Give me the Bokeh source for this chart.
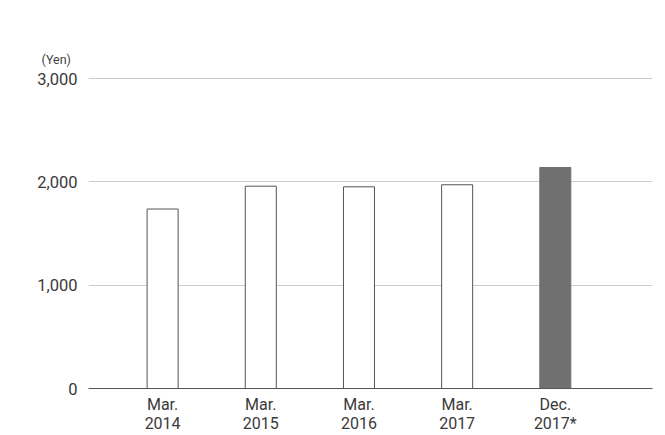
from bokeh.plotting import figure
from bokeh.models import ColumnDataSource, FixedTicker, Range1d, Title, NumeralTickFormatter
from bokeh.embed import file_html
from bokeh.resources import INLINE

categories = ["Mar.\n2014", "Mar.\n2015", "Mar.\n2016", "Mar.\n2017", "Dec.\n2017*"]
values = [1737, 1958, 1952, 1972, 2139]
fills = ["#ffffff", "#ffffff", "#ffffff", "#ffffff", "#707070"]
lines = ["#555555", "#555555", "#555555", "#555555", "#707070"]
y_ticks = [0, 1000, 2000, 3000]
unit_label = "(Yen)"

xs = list(range(len(categories)))
src = ColumnDataSource(dict(x=xs, top=values, fill=fills, line=lines))

p = figure(width=665, height=435, output_backend="svg", toolbar_location=None,
           x_range=Range1d(-0.755, 4.99), y_range=Range1d(0, 3010),
           min_border_left=88, min_border_right=13, min_border_top=77, min_border_bottom=47)
p.outline_line_color = None
p.background_fill_color = "white"
p.border_fill_color = "white"

p.vbar(x="x", top="top", bottom=0, width=0.316, source=src,
       fill_color="fill", line_color="line", line_width=1)

# y axis
p.yaxis.ticker = FixedTicker(ticks=y_ticks)
p.yaxis.formatter = NumeralTickFormatter(format="0,0")
p.yaxis.axis_line_color = None
p.yaxis.major_tick_line_color = None
p.yaxis.major_tick_out = 0
p.yaxis.major_tick_in = 0
p.yaxis.minor_tick_line_color = None
p.yaxis.major_label_text_font = "Roboto"
p.yaxis.major_label_text_font_size = "16.5px"
p.yaxis.major_label_text_color = "#3a3a3a"
p.yaxis.major_label_standoff = 11
p.ygrid.grid_line_color = "#cccccc"
p.ygrid.ticker = FixedTicker(ticks=y_ticks)

# x axis
p.xaxis.ticker = FixedTicker(ticks=xs)
p.xaxis.major_label_overrides = {i: c for i, c in zip(xs, categories)}
p.xaxis.axis_line_color = "#555555"
p.xaxis.axis_line_width = 1
p.xaxis.major_tick_line_color = None
p.xaxis.major_tick_out = 0
p.xaxis.major_tick_in = 0
p.xaxis.minor_tick_line_color = None
p.xaxis.major_label_text_font = "Roboto"
p.xaxis.major_label_text_font_size = "16px"
p.xaxis.major_label_text_line_height = 1.0
p.xaxis.major_label_text_color = "#3a3a3a"
p.xaxis.major_label_standoff = 6
p.xgrid.grid_line_color = None

p.add_layout(Title(text=unit_label, align="left", offset=-47, standoff=22,
                   text_font="Roboto", text_font_size="12.5px", text_color="#444444",
                   text_font_style="normal"), "above")

open("out.html", "w").write(file_html(p, INLINE))
